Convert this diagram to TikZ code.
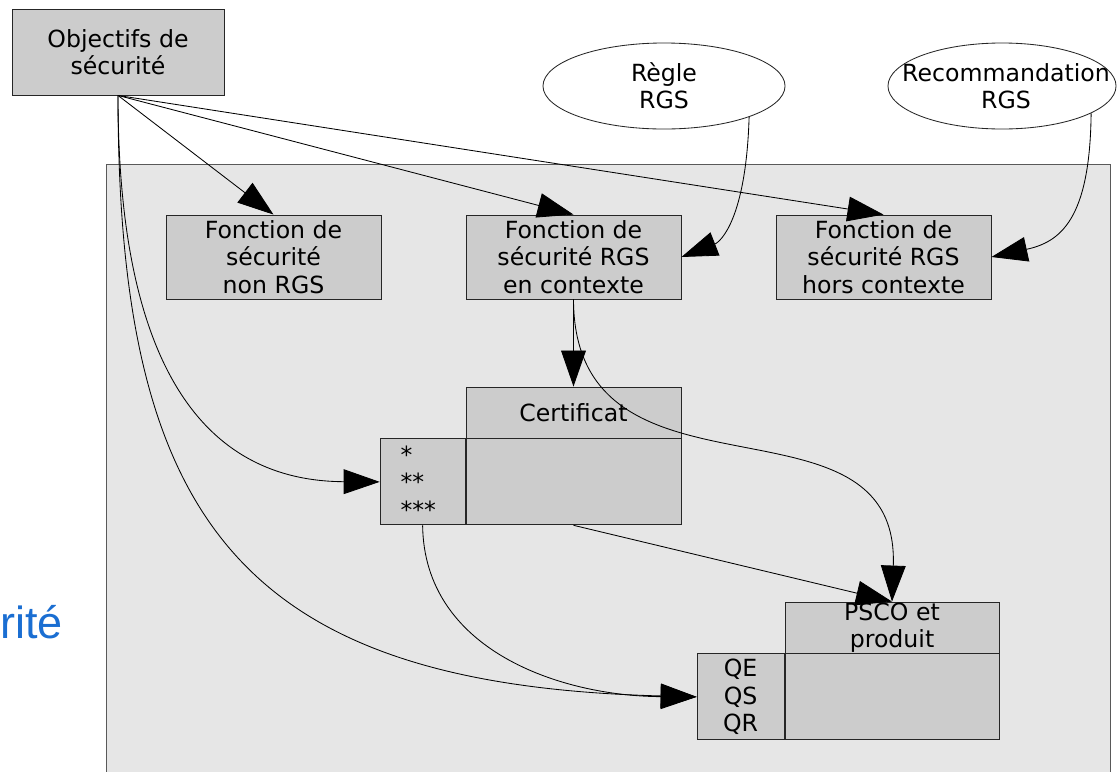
\documentclass[tikz,border=0pt]{standalone}
\usepackage{fontspec}
\setmainfont{DejaVu Sans}
\newfontfamily\bluefont{Liberation Sans}
\usepackage{tikz}
\usetikzlibrary{
    shapes.geometric, arrows.meta, positioning
}
\definecolor{boxgray}{HTML}{CCCCCC}
\definecolor{panelgray}{HTML}{E6E6E6}
\definecolor{panelline}{HTML}{595959}
\definecolor{bluetxt}{HTML}{1A6ED2}
\tikzset{
  lbl/.style={font=\fontsize{16.8}{19.5}\selectfont, align=center},
  box/.style={rectangle, draw=black!85, fill=boxgray, line width=0.6pt,
              minimum width=5.375cm, minimum height=2.1cm, inner sep=0pt, lbl},
  hdr/.style={box, minimum height=1.275cm},
  body/.style={box, minimum height=2.15cm},
  side/.style={box, minimum height=2.15cm},
  ell/.style={ellipse, draw=black!85, fill=white, line width=0.6pt,
              minimum width=6.05cm, minimum height=2.15cm, inner sep=0pt, lbl},
  arr/.style={-{Triangle[length=0.9cm, width=0.62cm]}, line width=0.6pt},
}

\begin{document}
\begin{tikzpicture}[x=0.025cm, y=-0.025cm]
  \useasboundingbox[fill=white] (0,0) rectangle (1117,771);

  % grey panel
  \draw[fill=panelgray, draw=panelline, line width=0.7pt] (106,164) rectangle (1110,790);

  \node[bluetxt, font=\bluefont\fontsize{32}{38}\selectfont, anchor=base east, inner sep=0pt] (cut) at (63,638) {rité};

  \node[box, minimum width=5.3cm, minimum height=2.15cm] (obj) at (118,52) {Objectifs de\\sécurité};

  \node[ell] (regle) at (664,86) {Règle\\RGS};
  \node[ell, minimum width=5.7cm] (rec) at (1002,86) {};
  \node[lbl] at (1006,86) {Recommandation\\RGS};

  \node[box] (fn1) at (273.5,257) {Fonction de\\sécurité\\non RGS};
  \node[box] (fn2) at (573.5,257) {Fonction de\\sécurité RGS\\en contexte};
  \node[box] (fn3) at (883.5,257) {Fonction de\\sécurité RGS\\hors contexte};

  % certificat
  \node[hdr] (cert) at (573.5,412.5) {Certificat};
  \node[body, below=0pt of cert] (certbody) {};
  \node[side, minimum width=2.125cm, text width=1.1cm, align=left,
        left=0pt of certbody] (certside) {{*}\\{**}\\{***}};

  % PSCO
  \node[hdr, minimum width=5.35cm] (psco) at (892,627.5) {PSCO et\\produit};
  \node[body, minimum width=5.35cm, below=0pt of psco] (pscobody) {};
  \node[side, minimum width=2.175cm, left=0pt of pscobody] (pscoside) {QE\\QS\\QR};

  \draw[arr] (obj.south) -- (fn1.north);
  \draw[arr] (obj.south) -- (fn2.north);
  \draw[arr] (obj.south) -- (fn3.north);
  \draw[arr] (obj.south) .. controls (118,360) and (200,481) .. (certside.west);
  \draw[arr] (obj.south) .. controls (118,520) and (240,685) .. (pscoside.west);

  \draw[arr] (regle.-20) .. controls (746,220) and (720,242) .. (fn2.east);
  \draw[arr] (rec.-17) .. controls (1090,220) and (1060,242) .. (fn3.east);

  \draw[arr] (fn2.south) -- (cert.north);
  \draw[arr] (fn2.south) .. controls (574,520) and (900,380) .. (psco.north);
  \draw[arr] (certbody.south) -- (psco.north);
  \draw[arr] (certside.south) .. controls (424,650) and (560,696) .. (pscoside.west);

\end{tikzpicture}
\end{document}
